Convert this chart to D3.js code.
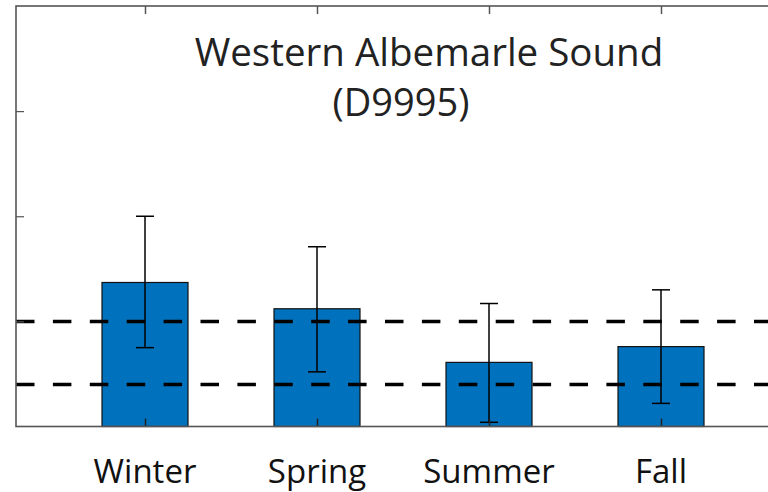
<!DOCTYPE html>
<html><head><meta charset="utf-8">
<script src="https://cdn.jsdelivr.net/npm/d3@7"></script>
<style>body{margin:0;background:#fff;} svg{display:block;}</style>
</head><body>
<svg id="c" width="768" height="492"></svg>
<script>
const categories = ["Winter", "Spring", "Summer", "Fall"];
const means = [0.137, 0.112, 0.061, 0.076];
const errLow = [0.075, 0.052, 0.004, 0.022];
const errHigh = [0.200, 0.171, 0.117, 0.130];
const thresholds = [0.10, 0.04];
const yTicks = [0, 0.1, 0.2, 0.3, 0.4];
const titleLines = ["Western Albemarle Sound", "(D9995)"];

const svg = d3.select("#c");
const x = d3.scaleLinear().domain([0.25, 4.75]).range([16, 790]);
const y = d3.scaleLinear().domain([0, 0.4]).range([426.5, 6]);
const bw = x(1.25) - x(0.75);
const axisCol = "#555";
const font = "'Open Sans', 'Noto Sans', sans-serif";

// bars
svg.append("g").selectAll("rect").data(means).join("rect")
  .attr("x", (d,i) => x(i+1) - bw/2)
  .attr("y", d => y(d))
  .attr("width", bw)
  .attr("height", d => y(0) - y(d))
  .attr("fill", "#0072BD")
  .attr("stroke", "#111")
  .attr("stroke-width", 1.2);

// dashed thresholds
svg.append("g").selectAll("line").data(thresholds).join("line")
  .attr("x1", 16).attr("x2", 790)
  .attr("y1", d => y(d)).attr("y2", d => y(d))
  .attr("stroke", "#000").attr("stroke-width", 3.5)
  .attr("stroke-dasharray", "18.5,18.4");

// error bars
const eg = svg.append("g").attr("stroke", "#000").attr("stroke-width", 1.5);
categories.forEach((c, i) => {
  const cx = x(i+1);
  eg.append("line").attr("x1", cx).attr("x2", cx).attr("y1", y(errLow[i])).attr("y2", y(errHigh[i]));
  eg.append("line").attr("x1", cx-9).attr("x2", cx+9).attr("y1", y(errLow[i])).attr("y2", y(errLow[i]));
  eg.append("line").attr("x1", cx-9).attr("x2", cx+9).attr("y1", y(errHigh[i])).attr("y2", y(errHigh[i]));
});

// axes
const leftAxis = d3.axisLeft(y).tickValues(yTicks.slice(1, -1)).tickSize(-8).tickFormat("");
const gl = svg.append("g").attr("transform", "translate(16,0)").call(leftAxis);
gl.select(".domain").remove();
gl.selectAll(".tick line").attr("stroke", axisCol).attr("stroke-width", 1.2);

const bottomAxis = d3.axisBottom(x).tickValues([1,2,3,4]).tickSize(-8).tickFormat("");
const gb = svg.append("g").attr("transform", `translate(0,${y(0)})`).call(bottomAxis);
gb.select(".domain").remove();
gb.selectAll(".tick line").attr("stroke", "#222").attr("stroke-width", 1.5);

const topAxis = d3.axisTop(x).tickValues([1,2,3,4]).tickSize(-8).tickFormat("");
const gt = svg.append("g").attr("transform", `translate(0,${y(0.4)})`).call(topAxis);
gt.select(".domain").remove();
gt.selectAll(".tick line").attr("stroke", axisCol).attr("stroke-width", 1.5);

// box
svg.append("rect").attr("x", x(0.25)).attr("y", y(0.4))
  .attr("width", x(4.75) - x(0.25)).attr("height", y(0) - y(0.4))
  .attr("fill", "none").attr("stroke", axisCol).attr("stroke-width", 1.6);

// category labels
svg.append("g").selectAll("text").data(categories).join("text")
  .attr("x", (d,i) => x(i+1)).attr("y", 483)
  .attr("text-anchor", "middle")
  .attr("font-family", font).attr("font-size", 33).attr("fill", "#111")
  .text(d => d);

// title
svg.append("text").attr("x", 429).attr("y", 66).attr("text-anchor", "middle")
  .attr("font-family", font).attr("font-size", 38.5).attr("fill", "#222").text(titleLines[0]);
svg.append("text").attr("x", 401).attr("y", 116).attr("text-anchor", "middle")
  .attr("font-family", font).attr("font-size", 38).attr("fill", "#222").text(titleLines[1]);
</script>
</body></html>
